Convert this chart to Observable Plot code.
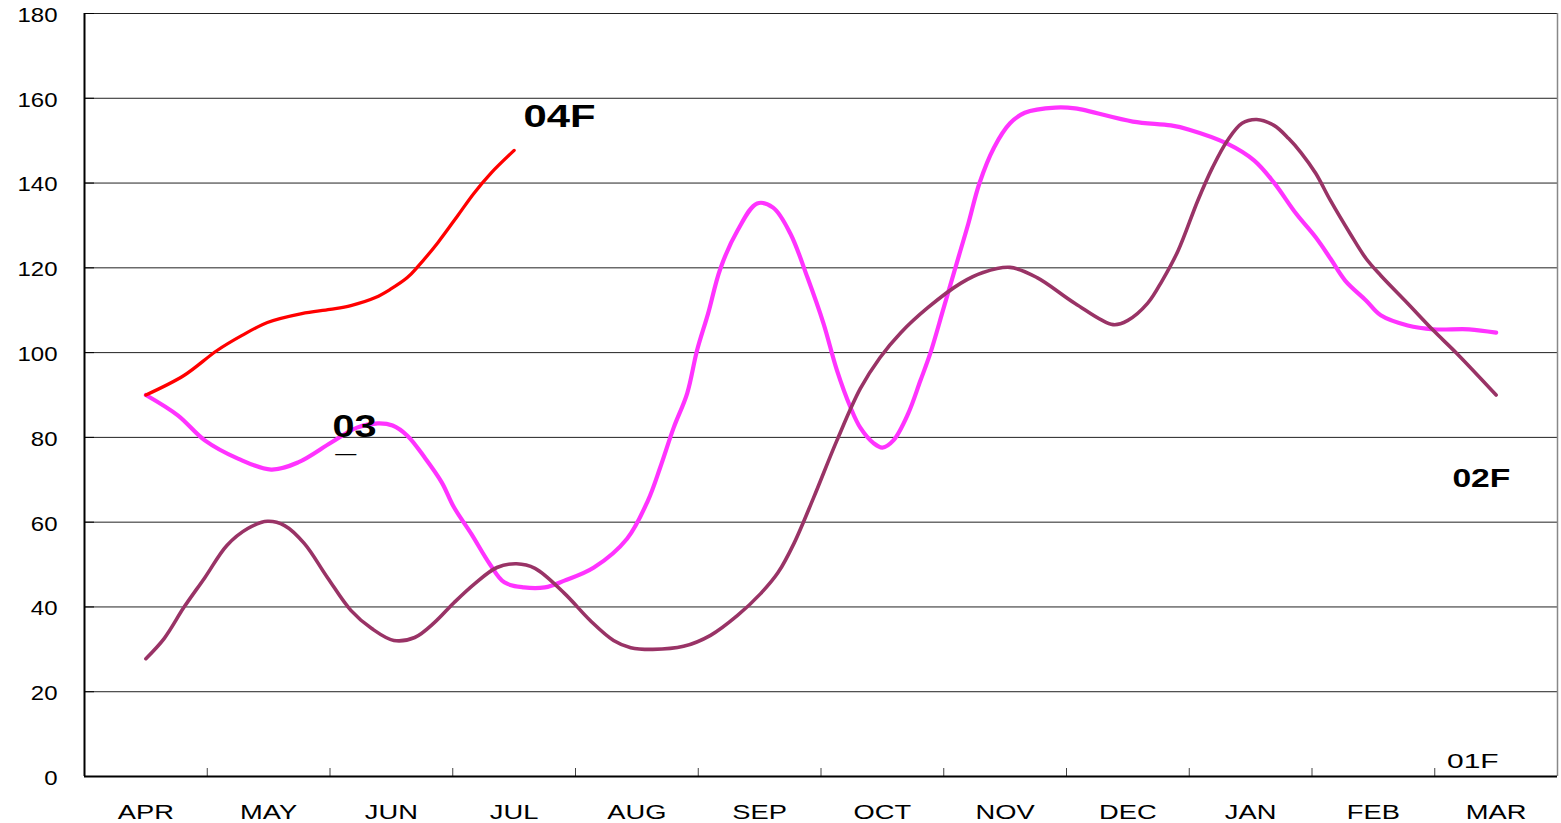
<!DOCTYPE html>
<html>
<head>
<meta charset="utf-8">
<script src="https://cdn.jsdelivr.net/npm/d3@7"></script>
<script src="https://cdn.jsdelivr.net/npm/@observablehq/plot@0.6"></script>
<style>
  html, body { margin: 0; padding: 0; background: #fff; }
  #chart svg { display: block; }
</style>
</head>
<body>
<div id="chart"></div>
<script>
// ---- data ----
const months = ["APR","MAY","JUN","JUL","AUG","SEP","OCT","NOV","DEC","JAN","FEB","MAR"];
const yTicks = [0,20,40,60,80,100,120,140,160,180];
const monthBounds = [0.5,1.5,2.5,3.5,4.5,5.5,6.5,7.5,8.5,9.5,10.5];

// series "03" (magenta): position in months from APR (0) and value
const s03_t = [0,0.26,0.48,0.75,1.02,1.24,1.51,1.72,1.89,2.01,2.13,2.27,2.41,2.51,2.65,2.80,2.92,3.08,3.25,3.41,3.65,3.92,4.09,4.19,4.30,4.41,4.49,4.58,4.68,4.82,4.98,5.11,5.25,5.39,5.52,5.63,5.74,5.82,5.93,6.00,6.09,6.21,6.31,6.39,6.50,6.63,6.70,6.79,6.91,7.04,7.16,7.41,7.57,8.04,8.35,8.50,8.81,9.03,9.19,9.37,9.53,9.65,9.77,9.94,10.06,10.28,10.49,10.78,11];
const s03_v = [90,85.2,79.3,75.0,72.4,74.1,78.8,82.3,83.3,82.8,80.4,75.3,69.4,63.5,57.3,50.2,45.8,44.6,44.6,46.2,49.3,56.1,65.1,72.9,82.3,90.4,100.5,109.2,119.8,128.8,135.2,134.2,128.1,117.7,106.9,95.8,87.1,82.3,78.6,77.6,79.3,85.6,93.4,99.8,110.6,123.5,130.4,139.9,148.4,154.1,156.6,157.8,157.6,154.5,153.6,152.6,149.3,145.3,140.1,132.8,127.2,122.2,117.0,112.3,108.8,106.4,105.5,105.5,104.7];

// series "02F" (maroon)
const s02F_t = [0,0.15,0.31,0.48,0.66,0.83,0.99,1.13,1.29,1.48,1.67,1.84,2.02,2.19,2.35,2.51,2.68,2.86,3.02,3.17,3.41,3.62,3.81,3.95,4.13,4.38,4.60,4.82,5.01,5.15,5.28,5.44,5.63,5.82,5.98,6.15,6.37,6.64,6.82,7.04,7.26,7.57,7.88,8.00,8.16,8.28,8.41,8.57,8.69,8.81,8.93,9.05,9.19,9.31,9.41,9.53,9.65,9.81,9.94,10.06,10.28,10.49,10.68,11];
const s02F_v = [27.8,32.6,39.9,46.9,54.5,58.5,60.2,59.2,55.0,46.9,39.2,34.9,32.1,32.8,36.3,41.0,45.5,49.3,50.2,49.1,43.2,36.8,32.1,30.4,30.0,30.7,33.3,38.0,43.2,48.1,55.0,65.8,79.3,91.5,98.8,104.7,110.6,116.4,118.9,120.1,117.7,111.6,106.6,107.6,111.6,117.0,124.1,135.9,143.7,150.0,154.1,155.0,153.6,150.5,147.2,142.3,135.9,128.1,122.2,118.2,111.6,105.2,99.8,90];

// series "04F" (red)
const s04F_t = [0,0.31,0.58,0.78,0.99,1.27,1.50,1.67,1.87,1.99,2.13,2.21,2.38,2.54,2.67,2.81,3];
const s04F_v = [90,94.6,100.5,104.0,107.1,109.2,110.2,111.1,113.0,114.9,117.7,120.1,126.0,132.3,137.5,142.3,147.7];

// series labels written on the chart
const labelText = ["04F","03","_","02F","01F"];
const labelT = [3.37,1.70,1.63,10.88,10.81];
const labelV = [153.3,80.0,76.9,68.2,2.1];

// ---- build tables ----
const toRows = (t, v) => t.map((x, i) => ({t: x, v: v[i]}));
const rows03 = toRows(s03_t, s03_v);
const rows02F = toRows(s02F_t, s02F_v);
const rows04F = toRows(s04F_t, s04F_v);
const labels = labelText.map((s, i) => ({s, t: labelT[i], v: labelV[i]}));

const chart = Plot.plot({
  width: 1561,
  height: 823,
  marginLeft: 84,
  marginRight: 4,
  marginTop: 13,
  marginBottom: 47,
  style: {fontFamily: "'Liberation Sans', Arial, sans-serif", background: "#fff", color: "#000"},
  x: {domain: [-0.5, 11.5]},
  y: {domain: [0, 180]},
  marks: [
    Plot.gridY(yTicks.filter(d => d > 0), {stroke: "#222", strokeOpacity: 1, strokeWidth: 1}),
    Plot.ruleX([11.5], {stroke: "#888", strokeWidth: 1.5}),
    Plot.axisY({ticks: yTicks, tickSize: 0, tickPadding: 27, fontSize: 20, dy: 2, label: null}),
    Plot.axisY({ticks: yTicks, tickSize: 10, dx: 10, tickFormat: () => "", label: null, stroke: "#000"}),
    Plot.axisX({ticks: d3.range(12), tickFormat: i => months[i], tickSize: 0, tickPadding: 29, fontSize: 19.5, label: null}),
    Plot.axisX(monthBounds, {tickSize: 8, dy: -8, tickFormat: () => "", label: null, stroke: "#444"}),
    Plot.ruleX([-0.5], {stroke: "#000", strokeWidth: 2}),
    Plot.ruleY([0], {stroke: "#000", strokeWidth: 2}),
    Plot.line(rows03, {x: "t", y: "v", stroke: "#ff33ff", strokeWidth: 4.2, curve: "catmull-rom"}),
    Plot.line(rows02F, {x: "t", y: "v", stroke: "#993366", strokeWidth: 3.6, curve: "catmull-rom"}),
    Plot.line(rows04F, {x: "t", y: "v", stroke: "#ff0000", strokeWidth: 3.3, curve: "catmull-rom"}),
    Plot.text(labels.filter(d => d.s === "04F" || d.s === "03"), {x: "t", y: "v", text: "s", fontSize: 30.5, fontWeight: "bold", lineAnchor: "bottom", fill: "#000"}),
    Plot.text(labels.filter(d => d.s === "02F"), {x: "t", y: "v", text: "s", fontSize: 26.5, fontWeight: "bold", lineAnchor: "bottom", fill: "#000"}),
    Plot.text(labels.filter(d => d.s === "01F"), {x: "t", y: "v", text: "s", fontSize: 20, fontWeight: 500, lineAnchor: "bottom", fill: "#000"}),
    Plot.text(labels.filter(d => d.s === "_"), {x: "t", y: "v", text: "s", fontSize: 22, lineAnchor: "bottom", fill: "#000"})
  ]
});

document.getElementById("chart").appendChild(chart);

// horizontally stretched lettering, as in the original
function stretch(node, sx) {
  let tr = node.getAttribute("transform") || "";
  const x = node.getAttribute("x");
  if (x != null && /^-?[\d.]+$/.test(x)) {
    tr += ` translate(${x},0)`;
    node.removeAttribute("x");
  }
  const dx = node.getAttribute("dx");
  if (dx != null && /^-?[\d.]+$/.test(dx)) {
    tr += ` translate(${dx},0)`;
    node.removeAttribute("dx");
  }
  node.setAttribute("transform", (tr + ` scale(${sx},1)`).trim());
}
const svg = d3.select(chart);
svg.selectAll('g[aria-label="x-axis tick label"] text').each(function() { stretch(this, 1.4); });
svg.selectAll('g[aria-label="y-axis tick label"] text').each(function() { stretch(this, 1.2); });
const labelStretch = {"04F": 1.37, "03": 1.3, "02F": 1.27, "01F": 1.5, "_": 1.65};
svg.selectAll('g[aria-label="text"] text').each(function() {
  const s = this.textContent;
  if (labelStretch[s]) stretch(this, labelStretch[s]);
});
</script>
</body>
</html>
